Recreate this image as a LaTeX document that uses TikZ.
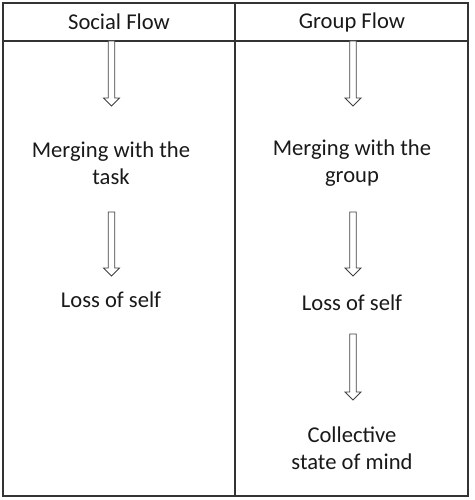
\documentclass[tikz,border=0pt]{standalone}
\usepackage{fontspec}
\setmainfont{Carlito}
\begin{document}
\begin{tikzpicture}[x=1pt,y=-1pt,
  frame/.style={draw=black!80,line width=1.3pt},
  lbl/.style={font=\fontsize{22.6}{27}\selectfont,align=center,text=black!90,inner sep=0pt},
  hollow/.style={draw=black!75,line width=0.8pt,fill=white}]
\useasboundingbox (0,0) rectangle (474,500);
\draw[frame] (3,3) rectangle (468,496);
\draw[frame] (3,41) -- (468,41);
\draw[frame] (235,3) -- (235,496);
\node[lbl] (h1) at (119,22) {Social Flow};
\node[lbl] (h2) at (352,22) {Group Flow};
\node[lbl] (a1) at (111,163) {Merging with the\\task};
\node[lbl] (a2) at (111,300) {Loss of self};
\node[lbl] (b1) at (352,163) {Merging with the\\group};
\node[lbl] (b2) at (352,303) {Loss of self};
\node[lbl] (b3) at (352,448) {Collective\\state of mind};
\newcommand\hollowarrow[3]{%
  \draw[hollow] ({#1-3.3},#2) -- ({#1+3.3},#2) -- ({#1+3.3},{#3-8}) -- ({#1+8},{#3-8}) -- (#1,#3) -- ({#1-8},{#3-8}) -- ({#1-3.3},{#3-8}) -- cycle;}
\hollowarrow{111.5}{41}{106}
\hollowarrow{353}{41}{106}
\hollowarrow{111.5}{212}{276}
\hollowarrow{353}{212}{276}
\hollowarrow{353}{334}{400}
\end{tikzpicture}
\end{document}
